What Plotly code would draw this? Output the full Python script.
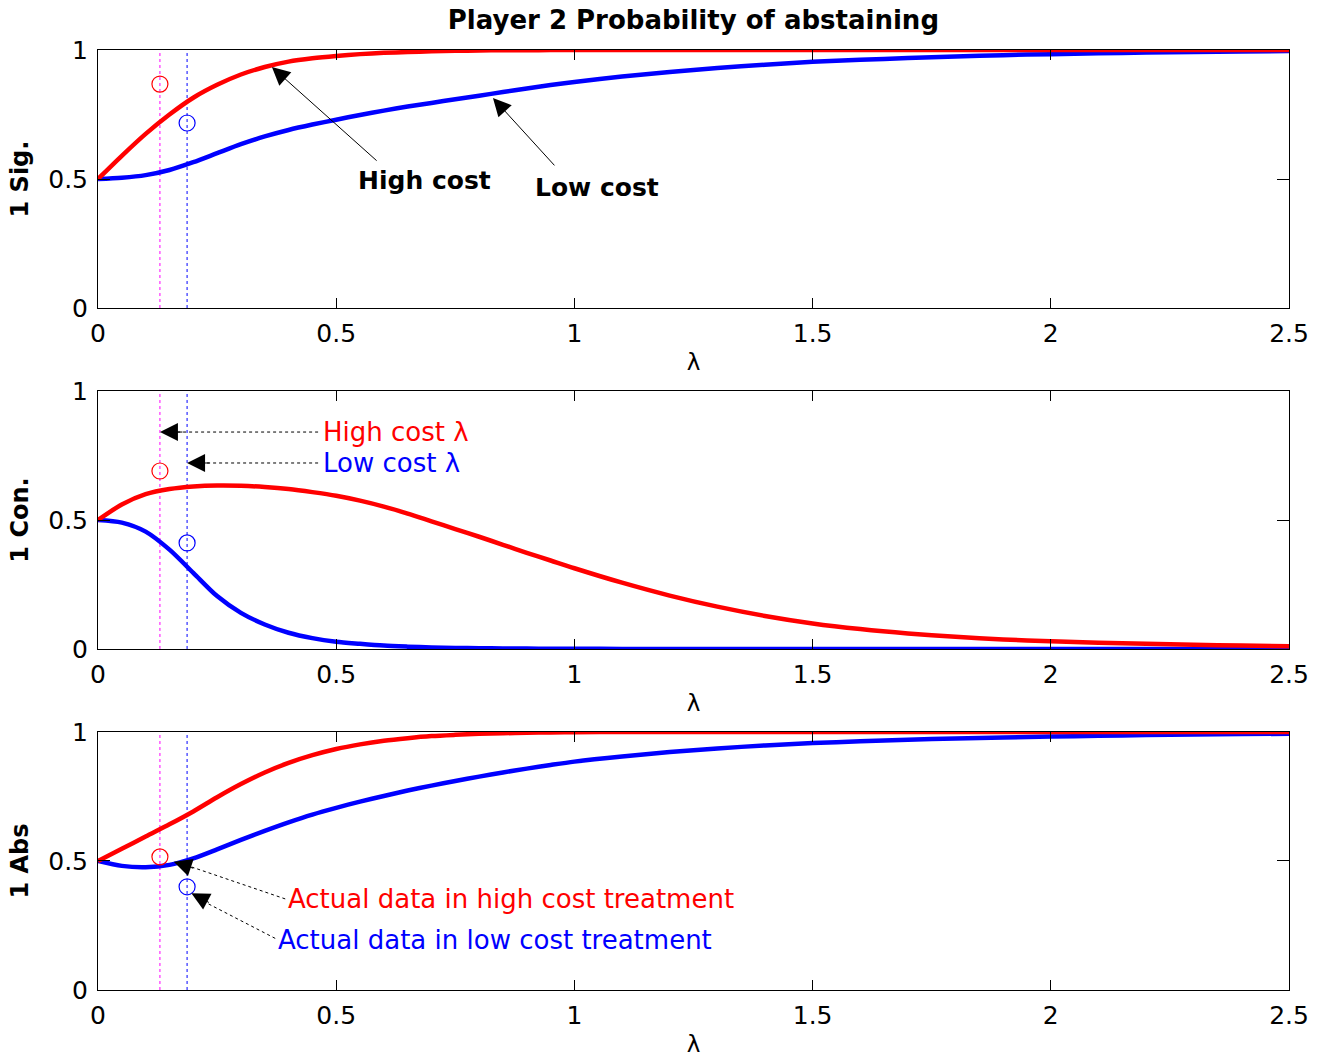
import plotly.graph_objects as go
from plotly.subplots import make_subplots

# ---------------- data ----------------
lam = [0.0, 0.05, 0.1, 0.15, 0.2, 0.25, 0.3, 0.35, 0.4, 0.45, 0.5, 0.55, 0.6, 0.65, 0.7,
       0.75, 0.8, 0.85, 0.9, 0.95, 1.0, 1.1, 1.2, 1.3, 1.4, 1.5, 1.6, 1.7, 1.8, 1.9,
       2.0, 2.1, 2.2, 2.3, 2.4, 2.5]

sig_high = [0.5, 0.59, 0.675, 0.75, 0.815, 0.865, 0.905, 0.934, 0.955, 0.968, 0.977,
            0.984, 0.989, 0.992, 0.995, 0.997, 0.998, 0.999, 0.999, 1.0, 1.0,
            1.0, 1.0, 1.0, 1.0, 1.0, 1.0, 1.0, 1.0, 1.0, 1.0, 1.0, 1.0, 1.0, 1.0, 1.0]
sig_low = [0.5, 0.505, 0.515, 0.535, 0.565, 0.6, 0.635, 0.665, 0.69, 0.711, 0.73,
           0.748, 0.765, 0.781, 0.795, 0.809, 0.823, 0.837, 0.851, 0.864, 0.876,
           0.897, 0.915, 0.93, 0.943, 0.954, 0.962, 0.969, 0.975, 0.98, 0.984, 0.987,
           0.99, 0.992, 0.994, 0.996]

con_high = [0.5, 0.56, 0.6, 0.62, 0.63, 0.634, 0.633, 0.628, 0.62, 0.608, 0.594,
            0.575, 0.552, 0.525, 0.495, 0.465, 0.435, 0.404, 0.373, 0.343, 0.313,
            0.257, 0.207, 0.164, 0.128, 0.099, 0.077, 0.06, 0.047, 0.037, 0.03, 0.024,
            0.02, 0.016, 0.013, 0.011]
con_low = [0.5, 0.49, 0.455, 0.385, 0.295, 0.205, 0.14, 0.095, 0.063, 0.042, 0.028,
           0.02, 0.013, 0.009, 0.006, 0.004, 0.003, 0.002, 0.0015, 0.001, 0.001,
           0.0, 0.0, 0.0, 0.0, 0.0, 0.0, 0.0, 0.0, 0.0, 0.0, 0.0, 0.0, 0.0, 0.0, 0.0]

abs_high = [0.5, 0.547, 0.595, 0.642, 0.692, 0.747, 0.798, 0.843, 0.88, 0.91, 0.934,
            0.952, 0.966, 0.976, 0.984, 0.989, 0.993, 0.995, 0.997, 0.998, 0.999,
            1.0, 1.0, 1.0, 1.0, 1.0, 1.0, 1.0, 1.0, 1.0, 1.0, 1.0, 1.0, 1.0, 1.0, 1.0]
abs_low = [0.5, 0.481, 0.476, 0.485, 0.51, 0.545, 0.582, 0.617, 0.65, 0.68, 0.706,
           0.73, 0.752, 0.773, 0.792, 0.81, 0.827, 0.843, 0.858, 0.872, 0.885,
           0.905, 0.922, 0.936, 0.948, 0.957, 0.964, 0.97, 0.975, 0.979, 0.982, 0.985,
           0.988, 0.99, 0.992, 0.993]

# estimated lambdas per treatment
lambda_high = 0.13
lambda_low = 0.187

# actual data per panel (high cost, low cost)
actual_high = [0.868, 0.69, 0.516]
actual_low = [0.717, 0.411, 0.40]

panel_labels = ["1 Sig.", "1 Con.", "1 Abs"]
x_ticks = [0, 0.5, 1, 1.5, 2, 2.5]
x_ticktext = ["0", "0.5", "1", "1.5", "2", "2.5"]
y_ticks = [0, 0.5, 1]
y_ticktext = ["0", "0.5", "1"]

title = "Player 2 Probability of abstaining"

RED = "#ff0000"
BLUE = "#0000ff"
MAGENTA = "#ff00ff"
FONT = "DejaVu Sans"
TICK_SIZE = 25
ANN_SIZE = 26
HEAD = dict(showarrow=True, arrowhead=2, arrowsize=3.6, arrowwidth=1, arrowcolor="black")

fig = make_subplots(rows=3, cols=1)

series = [(sig_high, sig_low), (con_high, con_low), (abs_high, abs_low)]
for i, (hi, lo) in enumerate(series):
    r = i + 1
    fig.add_trace(go.Scatter(x=[lambda_high, lambda_high], y=[0, 1], mode="lines",
                             line=dict(color=MAGENTA, width=1, dash="dot"),
                             showlegend=False, hoverinfo="skip"), row=r, col=1)
    fig.add_trace(go.Scatter(x=[lambda_low, lambda_low], y=[0, 1], mode="lines",
                             line=dict(color=BLUE, width=1, dash="dot"),
                             showlegend=False, hoverinfo="skip"), row=r, col=1)
    fig.add_trace(go.Scatter(x=lam, y=lo, mode="lines", line=dict(color=BLUE, width=4.5,
                             shape="spline", smoothing=0.8), showlegend=False), row=r, col=1)
    fig.add_trace(go.Scatter(x=lam, y=hi, mode="lines", line=dict(color=RED, width=4.5,
                             shape="spline", smoothing=0.8), showlegend=False), row=r, col=1)
    fig.add_trace(go.Scatter(x=[lambda_high], y=[actual_high[i]], mode="markers",
                             marker=dict(symbol="circle-open", size=16, color=RED,
                                         line=dict(width=1.2, color=RED)),
                             showlegend=False), row=r, col=1)
    fig.add_trace(go.Scatter(x=[lambda_low], y=[actual_low[i]], mode="markers",
                             marker=dict(symbol="circle-open", size=16, color=BLUE,
                                         line=dict(width=1.2, color=BLUE)),
                             showlegend=False), row=r, col=1)

# plot area px: top 50-308, mid 391-649, bottom 732-990 ; paper spans 50..990
domains = [[0.7255, 1.0], [0.3628, 0.6372], [0.0, 0.2745]]
for i in range(3):
    xa = "xaxis" if i == 0 else f"xaxis{i+1}"
    ya = "yaxis" if i == 0 else f"yaxis{i+1}"
    fig.layout[xa].update(
        range=[0, 2.5], tickvals=x_ticks, ticktext=x_ticktext, automargin=False,
        showline=True, linecolor="black", linewidth=1, mirror="ticks",
        ticks="inside", ticklen=10, tickcolor="black", tickwidth=1,
        showgrid=False, zeroline=False, ticklabelstandoff=3,
        tickfont=dict(family=FONT, size=TICK_SIZE, color="black"),
        title=dict(text="λ", font=dict(family=FONT, size=23, color="black"), standoff=6),
    )
    fig.layout[ya].update(
        domain=domains[i], range=[0, 1], tickvals=y_ticks, ticktext=y_ticktext,
        automargin=False,
        showline=True, linecolor="black", linewidth=1, mirror="ticks",
        ticks="inside", ticklen=12, tickcolor="black", tickwidth=1,
        showgrid=False, zeroline=False, ticklabelstandoff=4,
        tickfont=dict(family=FONT, size=TICK_SIZE, color="black"),
        title=dict(text="<b>%s</b>" % panel_labels[i],
                   font=dict(family=FONT, size=24, color="black"), standoff=12),
    )

ann = []
# top panel: solid arrows + bold labels
ann.append(dict(x=0.365, y=0.934, ax=0.588, ay=0.566, xref="x", yref="y", axref="x", ayref="y",
                text="", **HEAD))
ann.append(dict(x=0.829, y=0.814, ax=0.961, ay=0.547, xref="x", yref="y", axref="x", ayref="y",
                text="", **HEAD))
ann.append(dict(x=0.686, y=0.496, xref="x", yref="y", text="<b>High cost</b>", showarrow=False,
                font=dict(family=FONT, size=25, color="black")))
ann.append(dict(x=1.047, y=0.469, xref="x", yref="y", text="<b>Low cost</b>", showarrow=False,
                font=dict(family=FONT, size=25, color="black")))

# middle panel: dotted pointers to lambda lines
ann.append(dict(x=0.468, y=0.841, xref="x2", yref="y2", text="High cost λ", showarrow=False,
                xanchor="left", font=dict(family=FONT, size=ANN_SIZE, color=RED)))
ann.append(dict(x=0.468, y=0.721, xref="x2", yref="y2", text="Low cost λ", showarrow=False,
                xanchor="left", font=dict(family=FONT, size=ANN_SIZE, color=BLUE)))
ann.append(dict(x=lambda_high, y=0.841, xref="x2", yref="y2", ax=24, ay=0, text="", **HEAD))
ann.append(dict(x=lambda_low, y=0.721, xref="x2", yref="y2", ax=24, ay=0, text="", **HEAD))

# bottom panel: dotted pointers to actual data
ann.append(dict(x=0.395, y=0.353, xref="x3", yref="y3", text="Actual data in high cost treatment",
                showarrow=False, xanchor="left", font=dict(family=FONT, size=ANN_SIZE, color=RED)))
ann.append(dict(x=0.374, y=0.194, xref="x3", yref="y3", text="Actual data in low cost treatment",
                showarrow=False, xanchor="left", font=dict(family=FONT, size=ANN_SIZE, color=BLUE)))
ann.append(dict(x=0.159, y=0.497, xref="x3", yref="y3", ax=21, ay=7, text="", **HEAD))
ann.append(dict(x=0.196, y=0.375, xref="x3", yref="y3", ax=19, ay=10, text="", **HEAD))

shapes = [
    dict(type="line", xref="x2", yref="y2", x0=0.462, y0=0.841, x1=lambda_high + 0.03, y1=0.841,
         line=dict(color="black", width=1, dash="dot")),
    dict(type="line", xref="x2", yref="y2", x0=0.462, y0=0.721, x1=lambda_low + 0.03, y1=0.721,
         line=dict(color="black", width=1, dash="dot")),
    dict(type="line", xref="x3", yref="y3", x0=0.393, y0=0.353, x1=0.185, y1=0.484,
         line=dict(color="black", width=1, dash="dot")),
    dict(type="line", xref="x3", yref="y3", x0=0.372, y0=0.2, x1=0.22, y1=0.345,
         line=dict(color="black", width=1, dash="dot")),
]

fig.update_layout(
    width=1325, height=1061,
    margin=dict(l=98, r=36, t=50, b=71, autoexpand=False),
    paper_bgcolor="white", plot_bgcolor="white",
    font=dict(family=FONT, color="black"),
    title=dict(text="<b>%s</b>" % title, x=0.5233, xanchor="center", y=1 - 20 / 1061,
               yanchor="middle", automargin=False,
               font=dict(family=FONT, size=26, color="black")),
    annotations=ann, shapes=shapes, showlegend=False,
)

fig.write_html("out.html", config={"displayModeBar": False},
               post_script="document.body.style.margin='0';"
                           "document.body.style.overflow='hidden';")
